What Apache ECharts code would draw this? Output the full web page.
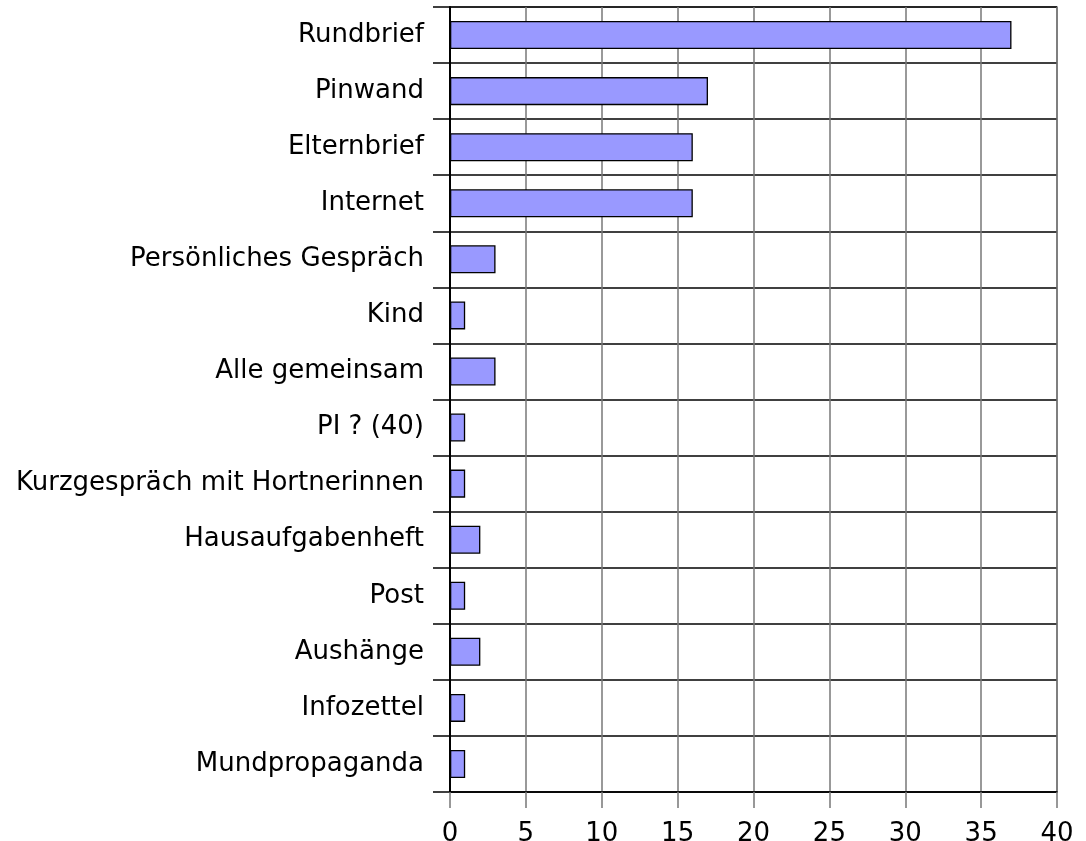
<!DOCTYPE html>
<html>
<head>
<meta charset="utf-8">
<script src="https://cdn.jsdelivr.net/npm/echarts@6/dist/echarts.min.js"></script>
<style>
  html, body { margin: 0; padding: 0; background: #fff; }
  #chart { width: 1086px; height: 841px; }
</style>
</head>
<body>
<div id="chart"></div>
<script>
var categories = [
    "Rundbrief", "Pinwand", "Elternbrief", "Internet", "Persönliches Gespräch",
    "Kind", "Alle gemeinsam", "PI ? (40)", "Kurzgespräch mit Hortnerinnen",
    "Hausaufgabenheft", "Post", "Aushänge", "Infozettel", "Mundpropaganda"
];
var counts = [37, 17, 16, 16, 3, 1, 3, 1, 1, 2, 1, 2, 1, 1];
var xTicks = [0, 5, 10, 15, 20, 25, 30, 35, 40];

var chart = echarts.init(document.getElementById('chart'));

var option = {
    animation: false,
    textStyle: { fontFamily: 'DejaVu Sans' },
    grid: {
        left: 450,
        right: 29,
        top: 7,
        bottom: 49,
        containLabel: false,
        outerBoundsMode: 'none',
        show: true,
        borderColor: '#777',
        borderWidth: 1.5
    },
    xAxis: {
        type: 'value',
        min: xTicks[0],
        max: xTicks[xTicks.length - 1],
        interval: 5,
        axisLine: { show: true, lineStyle: { color: '#000', width: 1.5 } },
        axisTick: { show: true, length: 16, lineStyle: { color: '#777', width: 1.5 } },
        axisLabel: { color: '#000', fontSize: 26, margin: 29, fontFamily: 'DejaVu Sans' },
        splitLine: { show: true, lineStyle: { color: '#777', width: 1.5 } }
    },
    yAxis: {
        type: 'category',
        inverse: true,
        data: categories,
        axisLine: { show: true, lineStyle: { color: '#000', width: 2 } },
        axisTick: { show: true, length: 17, lineStyle: { color: '#000', width: 1.5 } },
        axisLabel: { color: '#000', fontSize: 26, margin: 26, fontFamily: 'DejaVu Sans' },
        splitLine: { show: true, lineStyle: { color: '#000', width: 1.5 } }
    },
    series: [{
        type: 'bar',
        data: counts,
        barWidth: '50%',
        itemStyle: { color: '#9999ff', borderColor: '#000', borderWidth: 1.3 }
    }]
};

chart.setOption(option);
</script>
</body>
</html>
